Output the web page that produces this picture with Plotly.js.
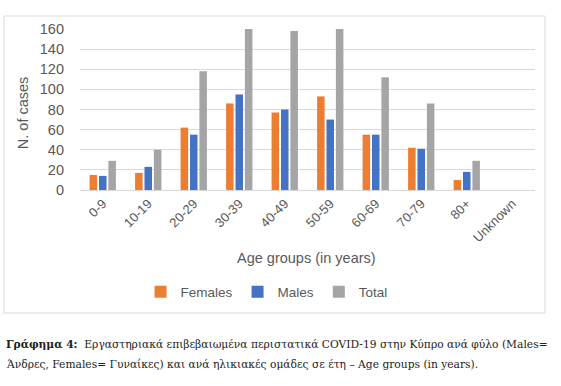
<!DOCTYPE html>
<html>
<head>
<meta charset="utf-8">
<script src="https://cdn.plot.ly/plotly-3.0.1.min.js"></script>
<style>html,body{margin:0;padding:0;background:#fff;}#chart{width:561px;height:386px;}</style>
</head>
<body>
<div id="chart"></div>
<script>
const categories = ["0-9","10-19","20-29","30-39","40-49","50-59","60-69","70-79","80+","Unknown"];
const females = [15, 17, 62, 86, 77, 93, 55, 42, 10, null];
const males   = [14, 23, 55, 95, 80, 70, 55, 41, 18, null];
const total   = [29, 40, 118, 181, 158, 163, 112, 86, 29, null];
const yTicks  = [0, 20, 40, 60, 80, 100, 120, 140, 160];

const sans = "Liberation Sans, Arial, sans-serif";
const tickFont = {family: sans, size: 13, color: "#595959"};

const traces = [
  {type: "bar", name: "Females", x: categories, y: females, marker: {color: "#ED7D31"}},
  {type: "bar", name: "Males", x: categories, y: males, marker: {color: "#4472C4"}},
  {type: "bar", name: "Total", x: categories, y: total, marker: {color: "#A5A5A5"}}
];

const layout = {
  width: 561, height: 386,
  margin: {l: 80, r: 26, t: 29, b: 196, pad: 0},
  paper_bgcolor: "#fff", plot_bgcolor: "#fff",
  barmode: "group", bargap: 0.38, bargroupgap: 0.2,
  showlegend: true,
  legend: {orientation: "h", x: 0.41, xanchor: "center", y: -0.634, yanchor: "middle",
           font: {family: sans, size: 13.5, color: "#595959"},
           itemwidth: 30, traceorder: "normal"},
  xaxis: {type: "category", tickangle: -45, tickfont: tickFont, showgrid: false,
          showline: true, linecolor: "#D9D9D9", linewidth: 1, ticks: "", fixedrange: true},
  yaxis: {range: [0, 160], tickvals: yTicks, ticktext: yTicks.map(String),
          tickfont: {family: sans, size: 14.5, color: "#595959"},
          showgrid: true, gridcolor: "#D9D9D9", gridwidth: 1, zeroline: false, showline: false,
          ticks: "", ticklabelstandoff: 15, fixedrange: true},
  shapes: [
    {type: "rect", xref: "paper", yref: "paper", x0: -0.167, x1: 1.022, y0: -0.764, y1: 1.0807,
     line: {color: "#D9D9D9", width: 1}, fillcolor: "rgba(0,0,0,0)", layer: "below"}
  ],
  annotations: [
    {text: "N. of cases", xref: "paper", yref: "paper", x: -0.125, y: 0.478, textangle: -90,
     showarrow: false, xanchor: "center", yanchor: "middle",
     font: {family: sans, size: 14.5, color: "#595959"}},
    {text: "Age groups (in years)", xref: "paper", yref: "paper", x: 0.497, y: -0.422,
     showarrow: false, xanchor: "center", yanchor: "middle",
     font: {family: sans, size: 14.5, color: "#595959"}},
    {text: "<b>Γράφημα 4:</b>  Εργαστηριακά επιβεβαιωμένα περιστατικά COVID-19 στην Κύπρο ανά φύλο (Males=",
     xref: "paper", yref: "paper", x: -0.167, y: -0.957, showarrow: false, xanchor: "left", yanchor: "middle",
     font: {family: "DejaVu Serif, serif", size: 10.7, color: "#222"}},
    {text: "Άνδρες, Females= Γυναίκες) και ανά ηλικιακές ομάδες σε έτη – Age groups (in years).",
     xref: "paper", yref: "paper", x: -0.167, y: -1.081, showarrow: false, xanchor: "left", yanchor: "middle",
     font: {family: "DejaVu Serif, serif", size: 10.7, color: "#222"}}
  ]
};

Plotly.newPlot("chart", traces, layout, {displayModeBar: false, staticPlot: true});
</script>
</body>
</html>
